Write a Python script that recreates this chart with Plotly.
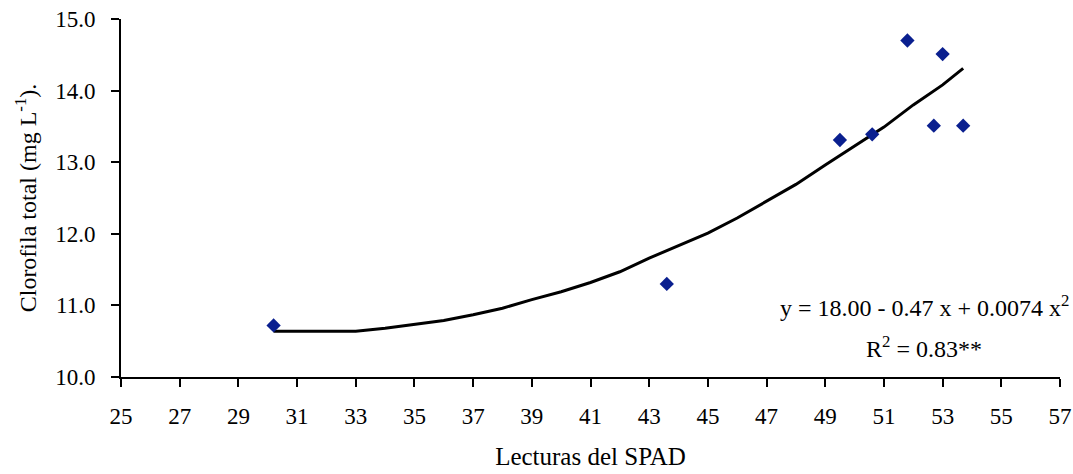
import plotly.graph_objects as go

# Observed SPAD readings and total chlorophyll
spad = [30.2, 43.6, 49.5, 50.6, 51.8, 52.7, 53.0, 53.7]
clorofila = [10.72, 11.30, 13.31, 13.39, 14.70, 13.51, 14.51, 13.51]

# Fitted quadratic trend, sampled along the SPAD range
trend_x = [30.2, 31, 32, 33, 34, 35, 36, 37, 38, 39, 40, 41, 42, 43, 44,
           45, 46, 47, 48, 49, 50, 51, 52, 53, 53.7]
trend_y = [10.64, 10.64, 10.64, 10.64, 10.68, 10.73, 10.79, 10.87, 10.96,
           11.08, 11.19, 11.32, 11.47, 11.66, 11.83, 12.01, 12.22, 12.45,
           12.69, 12.96, 13.22, 13.49, 13.80, 14.08, 14.31]

x_ticks = list(range(25, 58, 2))
y_ticks = [10.0, 11.0, 12.0, 13.0, 14.0, 15.0]

serif = "Liberation Serif, Times New Roman, serif"

fig = go.Figure()
fig.add_trace(go.Scatter(
    x=trend_x, y=trend_y, mode="lines",
    line=dict(color="black", width=3),
    hoverinfo="skip", showlegend=False,
))
fig.add_trace(go.Scatter(
    x=spad, y=clorofila, mode="markers",
    marker=dict(symbol="diamond", size=11, color="#0a1f8f",
                line=dict(width=0)),
    showlegend=False,
))

fig.add_annotation(x=52.37, y=10.99, xref="x", yref="y",
                   text="y = 18.00 - 0.47 x + 0.0074 x<sup>2</sup>",
                   showarrow=False, font=dict(family=serif, size=24, color="black"))
fig.add_annotation(x=52.37, y=10.42, xref="x", yref="y",
                   text="R<sup>2</sup> = 0.83**",
                   showarrow=False, font=dict(family=serif, size=24, color="black"))

fig.update_layout(
    width=1073, height=474,
    margin=dict(l=121, r=13, t=19, b=97),
    paper_bgcolor="white", plot_bgcolor="white",
    font=dict(family=serif, size=23, color="black"),
)
fig.update_xaxes(
    range=[25, 57], tickvals=x_ticks, ticktext=[str(v) for v in x_ticks],
    automargin=False,
    showgrid=False, zeroline=False,
    showline=True, linecolor="black", linewidth=2,
    ticks="outside", ticklen=8, tickwidth=2, tickcolor="black",
    ticklabelstandoff=9,
    tickfont=dict(family=serif, size=23, color="black"),
    title=dict(text="Lecturas del SPAD", standoff=20,
               font=dict(family=serif, size=25, color="black")),
)
fig.update_yaxes(
    range=[10, 15], tickvals=y_ticks, ticktext=[f"{v:.1f}" for v in y_ticks],
    automargin=False,
    showgrid=False, zeroline=False,
    showline=True, linecolor="black", linewidth=2,
    ticks="outside", ticklen=8, tickwidth=2, tickcolor="black",
    ticklabelstandoff=11,
    tickfont=dict(family=serif, size=23, color="black"),
    title=dict(text="Clorofila total (mg L<sup>-1</sup>).", standoff=12,
               font=dict(family=serif, size=24, color="black")),
)

fig.write_html("out.html")
